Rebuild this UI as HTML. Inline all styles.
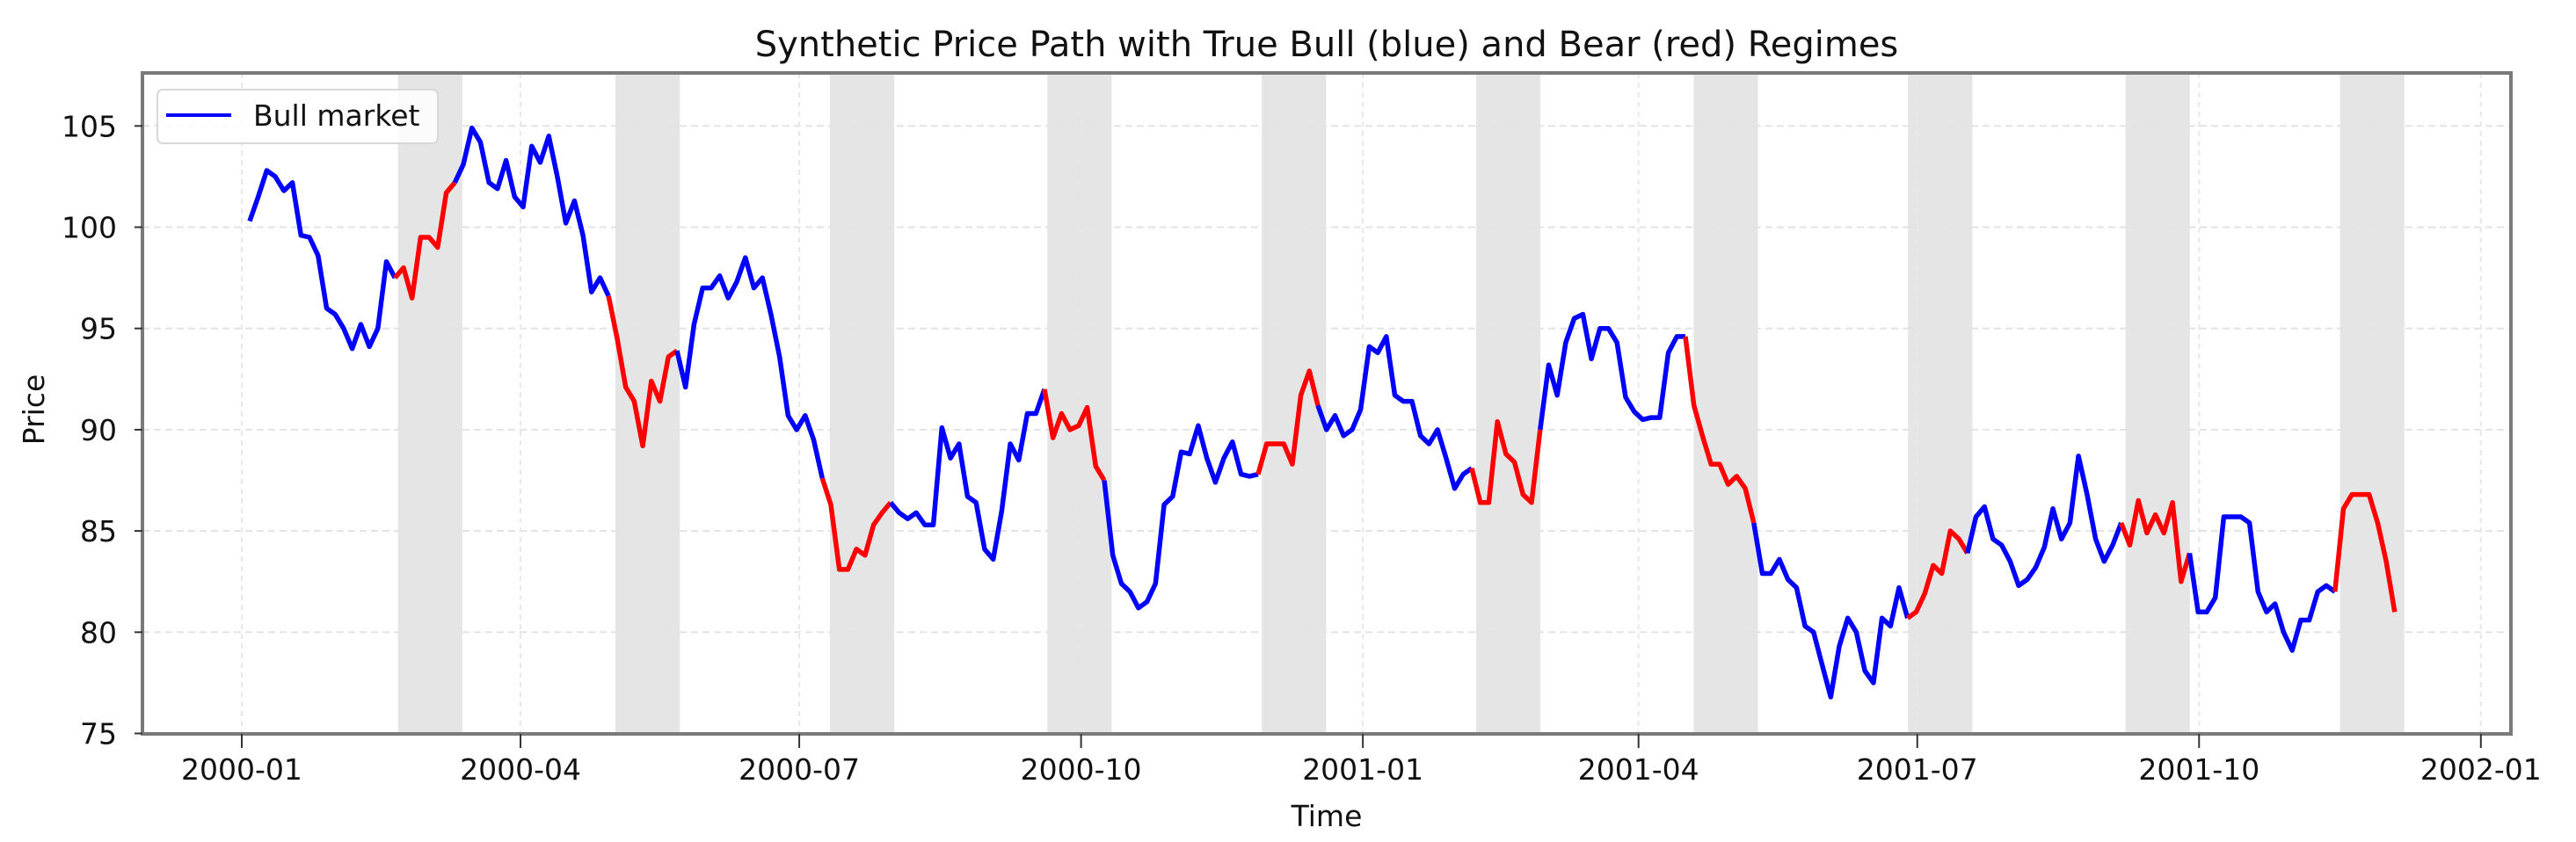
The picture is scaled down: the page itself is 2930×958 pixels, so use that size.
<!DOCTYPE html>
<html>
<head>
<meta charset="utf-8">
<style>
  html,body{margin:0;padding:0;background:#fff;}
  svg{display:block;font-family:"DejaVu Sans","Liberation Sans",sans-serif;}
</style>
</head>
<body>
<svg id="chart" width="2930" height="958" viewBox="0 0 2930 958" xmlns="http://www.w3.org/2000/svg">
  <rect x="0" y="0" width="2930" height="958" fill="#fff"/>
  <g id="shades"></g>
  <g id="grid"></g>
  <g id="series"></g>
  <rect x="162" y="83" width="2694" height="752" fill="none" stroke="#7a7a7a" stroke-width="4"/>
  <g id="yticks"></g>
  <g id="xticks"></g>
  <text x="1509" y="64" font-size="40" text-anchor="middle" fill="#111">Synthetic Price Path with True Bull (blue) and Bear (red) Regimes</text>
  <text x="1509" y="940" font-size="33" text-anchor="middle" fill="#111">Time</text>
  <text x="0" y="0" font-size="33" text-anchor="middle" fill="#111" transform="translate(50,466) rotate(-90)">Price</text>
  <g>
    <rect x="179" y="102" width="319" height="61" rx="6" fill="#fff" fill-opacity="0.85" stroke="#d8d8d8" stroke-width="2"/>
    <line x1="189" y1="131" x2="263" y2="131" stroke="#0000ff" stroke-width="4"/>
    <text x="288" y="143" font-size="33" fill="#111">Bull market</text>
  </g>
</svg>
<script>
// ---- data ----
const prices = [100.3,101.5,102.8,102.5,101.8,102.2,99.6,99.5,98.6,96.0,95.7,95.0,94.0,95.2,94.1,95.0,98.3,97.5,98.0,96.5,99.5,99.5,99.0,101.7,102.2,103.1,104.9,104.2,102.2,101.9,103.3,101.5,101.0,104.0,103.2,104.5,102.5,100.2,101.3,99.6,96.8,97.5,96.6,94.5,92.1,
91.4,89.2,92.4,91.4,93.6,93.9,92.1,95.2,97,97.0,97.6,96.5,97.3,98.5,97.0,97.5,95.7,93.6,90.7,90.0,90.7,89.5,
87.6,86.3,83.1,83.1,84.1,83.8,85.3,85.9,86.4,85.9,85.6,85.9,85.3,85.3,90.1,88.6,89.3,86.7,86.4,84.1,83.6,86,89.3,88.5,90.8,90.8,92,89.6,90.8,90,90.2,91.1,88.2,87.5,83.8,82.4,82,81.2,81.5,82.4,86.3,86.7,88.9,88.8,
90.2,88.6,87.4,88.6,89.4,87.8,87.7,87.8,89.3,89.3,89.3,88.3,91.7,92.9,91.2,90,90.7,89.7,90,91,94.1,93.8,94.6,91.7,91.4,91.4,89.7,89.3,90,88.6,87.1,87.8,88.1,86.4,86.4,90.4,88.8,88.4,86.8,86.4,90,93.2,91.7,94.3,95.5,
95.7,93.5,95,95,94.3,91.6,90.9,90.5,90.6,90.6,93.8,94.6,94.6,91.2,89.7,88.3,88.3,87.3,87.7,87.1,85.4,82.9,82.9,83.6,82.6,82.2,80.3,80,78.4,76.8,79.3,80.7,80,78.1,77.5,80.7,80.3,82.2,80.7,81,81.9,83.3,82.9,
85,84.6,83.9,85.7,86.2,84.6,84.3,83.5,82.3,82.6,83.2,84.2,86.1,84.6,85.4,88.7,86.8,84.6,83.5,84.3,85.4,84.3,86.5,84.9,85.8,84.9,86.4,82.5,83.9,81,81,81.7,85.7,85.7,85.7,85.4,82,81,81.4,80,79.1,80.6,80.6,82,82.3,82,86.1,86.8,86.8,86.8,85.4,83.5,81];
// days since 2000-01-01 where true bear regimes start / end
const bearStart = [51,122,192,263,333,403,474,544,615,685];
const bearEnd   = [72,143,213,284,354,424,495,565,636,706];
const yTicks = [75,80,85,90,95,100,105];
const xTickDays = [0,91,182,274,366,456,547,639,731];
const xTickLabels = ["2000-01","2000-04","2000-07","2000-10","2001-01","2001-04","2001-07","2001-10","2002-01"];
const sampleStartDay = 2.58, sampleStepDays = 2.79;

// ---- scales ----
const NS = "http://www.w3.org/2000/svg";
const PLOT = {left:162, right:2856, top:83, bottom:835};
function xScale(day){ return 275 + day*3.484; }
function yScale(v){ return 143.3 + (105 - v)*23.04; }
function mk(tag, attrs, parent){ const e=document.createElementNS(NS,tag); for(const k in attrs) e.setAttribute(k,attrs[k]); parent.appendChild(e); return e; }

// shading
const gS = document.getElementById('shades');
bearStart.forEach((s,i)=>{
  const r = mk('rect',{x:xScale(s),y:PLOT.top,width:xScale(bearEnd[i])-xScale(s),height:PLOT.bottom-PLOT.top,fill:'#e5e5e5'},gS);
  
  
});

// grid + y ticks
const gG = document.getElementById('grid');
const gY = document.getElementById('yticks');
yTicks.forEach(v=>{
  const y = yScale(v);
  const gl = mk('line',{x1:PLOT.left,x2:PLOT.right,y1:y,y2:y,stroke:'#e3e3e3','stroke-width':2,'stroke-dasharray':'8,5'},gG);
  
  
  const tk = mk('line',{x1:PLOT.left-9,x2:PLOT.left,y1:y,y2:y,stroke:'#333','stroke-width':2},gY);
  
  
  const t = mk('text',{x:133,y:y+12,'font-size':33,'text-anchor':'end',fill:'#111'},gY);
  t.textContent = v;
  
  
});
// x ticks
const gX = document.getElementById('xticks');
xTickDays.forEach((d,i)=>{
  const x = xScale(d);
  const gl = mk('line',{x1:x,x2:x,y1:PLOT.top,y2:PLOT.bottom,stroke:'#e8e8e8','stroke-width':2,'stroke-dasharray':'6,5'},gG);
  
  
  const tk = mk('line',{x1:x,x2:x,y1:PLOT.bottom,y2:PLOT.bottom+16,stroke:'#333','stroke-width':2},gX);
  
  
  const t = mk('text',{x:x,y:887,'font-size':33,'text-anchor':'middle',fill:'#111'},gX);
  t.textContent = xTickLabels[i];
  
  
});

// series
function isBear(day){ for(let i=0;i<bearStart.length;i++){ if(day>=bearStart[i] && day<=bearEnd[i]) return true; } return false; }
const gL = document.getElementById('series');
const pts = prices.map((v,k)=>{ const d = sampleStartDay + sampleStepDays*k; return {x:xScale(d), y:yScale(v), bear:isBear(d)}; });
let run = [pts[0]], runBear = pts[0].bear;
function flush(){
  if(run.length<2) return;
  const pl = mk('polyline',{points:run.map(p=>p.x.toFixed(1)+','+p.y.toFixed(1)).join(' '),fill:'none',stroke:runBear?'#ff0000':'#0000ff','stroke-width':5.5,'stroke-linejoin':'round'},gL);
  
  
}
for(let k=1;k<pts.length;k++){
  const p = pts[k];
  if(p.bear!==runBear){ flush(); run=[pts[k-1]]; runBear=p.bear; }
  run.push(p);
}
flush();
</script>
</body>
</html>
